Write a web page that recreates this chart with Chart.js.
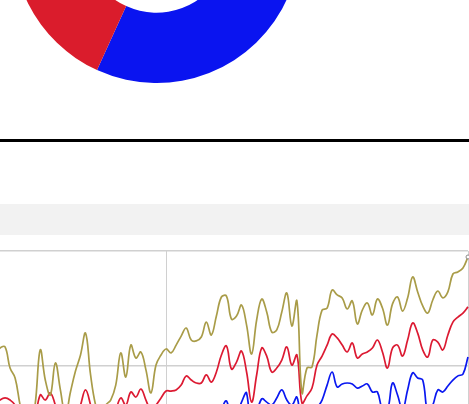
<!DOCTYPE html>
<html>
<head>
<meta charset="utf-8">
<script src="https://cdn.jsdelivr.net/npm/chart.js@4.4.1/dist/chart.umd.min.js"></script>
<style>
  html, body { margin: 0; padding: 0; width: 469px; height: 404px; overflow: hidden; background: #fff; }
  #donutBox { position: absolute; left: 13px; top: -204px; width: 287px; height: 287px; }
  .rule { position: absolute; left: 0; top: 139px; width: 469px; height: 3px; background: #000; }
  .band { position: absolute; left: 0; top: 204px; width: 469px; height: 31px; background: #f2f2f2; }
  #lineBox { position: absolute; left: 0; top: 246px; width: 469px; height: 240px; }
</style>
</head>
<body>
<div id="donutBox"><canvas id="donut"></canvas></div>
<div class="rule"></div>
<div class="band"></div>
<div id="lineBox"><canvas id="lines"></canvas></div>

<script>
// Donut: two shares, blue first (from the top, clockwise), then red
const donutLabels = ['A', 'B'];
const donutValues = [56.8, 43.2];
const donutColors = ['#0a14f0', '#da1c2c'];

// Line chart: one point per year
const years = Array.from({ length: 95 }, (_, i) => 1926 + i);
const xTicks = [1960, 2020];
const yTicks = [50, 100];

const olive = [54.8, 57.8, 58.3, 49.1, 44.8, 33.0, 24.3, 22.2, 33.5, 57.0,
  43.9, 37.4, 51.3, 39.6, 28.7, 38.7, 47.8, 54.8, 64.3, 46.1,
  33.0, 27.4, 33.0, 35.2, 41.7, 55.7, 45.2, 59.1, 53.5, 56.1,
  48.3, 38.3, 50.4, 54.8, 57.4, 55.7, 59.1, 63.0, 66.5, 61.3,
  60.9, 62.6, 69.1, 63.5, 71.7, 80.0, 80.4, 70.4, 71.7, 76.5,
  67.8, 55.2, 70.0, 79.1, 73.5, 64.8, 65.7, 73.5, 81.7, 67.4,
  78.3, 38.3, 49.1, 49.6, 63.5, 74.3, 75.2, 83.0, 80.9, 79.6,
  74.8, 78.3, 68.3, 74.3, 77.4, 72.2, 79.1, 75.2, 67.8, 77.0,
  80.0, 73.9, 79.6, 88.7, 82.2, 76.1, 73.0, 78.7, 82.6, 79.6,
  82.2, 90.0, 90.9, 92.6, 97.4];

const red = [33.0, 35.2, 36.1, 35.2, 33.0, 26.5, 17.8, 17.8, 26.5, 37.4,
  35.2, 38.3, 33.0, 26.5, 17.8, 22.2, 26.5, 33.0, 39.6, 33.0,
  24.3, 22.2, 24.3, 26.5, 30.9, 36.1, 33.0, 38.7, 36.5, 40.0,
  35.2, 30.9, 33.0, 36.1, 39.1, 39.1, 39.6, 41.7, 45.7, 43.9,
  42.6, 42.6, 46.1, 43.0, 47.4, 54.8, 58.7, 48.7, 51.7, 56.5,
  47.4, 34.3, 46.1, 57.8, 54.3, 47.4, 49.1, 52.6, 58.3, 50.4,
  54.8, 33.9, 37.0, 40.4, 50.4, 54.3, 59.1, 63.9, 62.2, 59.1,
  56.1, 60.0, 53.5, 55.2, 56.1, 57.8, 61.3, 56.1, 49.1, 57.8,
  59.1, 54.3, 61.3, 68.7, 64.3, 57.0, 53.9, 61.3, 60.4, 57.0,
  63.5, 69.1, 71.3, 73.0, 75.7];

const blue = [12.2, 14.3, 15.2, 14.3, 12.2, 5.7, 1.3, 1.3, 5.7, 16.5,
  14.3, 17.4, 12.2, 5.7, 0.5, 1.3, 5.7, 12.2, 18.7, 12.2,
  3.5, 1.3, 3.5, 5.7, 10.0, 15.2, 12.2, 17.8, 15.7, 19.1,
  14.3, 10.0, 12.2, 15.2, 18.3, 18.3, 18.7, 20.9, 24.8, 23.0,
  21.7, 21.7, 25.2, 22.2, 24.3, 30.9, 34.8, 26.5, 28.7, 34.3,
  38.3, 17.8, 28.7, 35.7, 34.3, 33.0, 36.1, 39.6, 35.2, 33.0,
  36.5, 24.3, 26.5, 28.7, 31.7, 35.2, 41.7, 47.4, 40.9, 42.2,
  42.6, 42.2, 40.4, 41.3, 42.2, 38.7, 38.7, 30.9, 30.9, 42.6,
  37.4, 30.9, 39.6, 47.0, 44.8, 43.9, 30.0, 33.0, 39.6, 38.7,
  41.3, 43.9, 45.7, 46.5, 53.9];

new Chart(document.getElementById('donut'), {
  type: 'doughnut',
  data: {
    labels: donutLabels,
    datasets: [{ data: donutValues, backgroundColor: donutColors, borderWidth: 0 }]
  },
  options: {
    responsive: true,
    maintainAspectRatio: false,
    animation: false,
    cutout: '51%',
    layout: { padding: 0 },
    plugins: { legend: { display: false }, tooltip: { enabled: false } }
  }
});

// helper: turn a value array into {x, y} points on the year axis
const toPoints = arr => arr.map((v, i) => ({ x: years[i], y: v }));
const gridColor = '#d0d0d0';

// small hollow marker on the last point of the first series
const endMarker = {
  id: 'endMarker',
  afterDatasetsDraw(chart) {
    const pts = chart.getDatasetMeta(0).data;
    const p = pts[pts.length - 1];
    const ctx = chart.ctx;
    ctx.save();
    ctx.beginPath();
    ctx.arc(p.x, p.y, 2, 0, Math.PI * 2);
    ctx.fillStyle = '#fff';
    ctx.fill();
    ctx.lineWidth = 1;
    ctx.strokeStyle = '#8a8a8a';
    ctx.stroke();
    ctx.restore();
  }
};

new Chart(document.getElementById('lines'), {
  type: 'line',
  data: {
    datasets: [
      { label: 'olive', data: toPoints(olive), borderColor: '#a99c48' },
      { label: 'red', data: toPoints(red), borderColor: '#dc1a32' },
      { label: 'blue', data: toPoints(blue), borderColor: '#0a18f0' }
    ]
  },
  options: {
    responsive: true,
    maintainAspectRatio: false,
    animation: false,
    clip: false,
    elements: {
      line: { tension: 0.4, borderWidth: 1.7 },
      point: { radius: 0, hoverRadius: 0 }
    },
    layout: { padding: { top: 5, bottom: 5, left: 0, right: 1 } },
    plugins: { legend: { display: false }, tooltip: { enabled: false } },
    scales: {
      x: {
        type: 'linear',
        min: 1927,
        max: 2020,
        afterBuildTicks: scale => { scale.ticks = xTicks.map(v => ({ value: v })); },
        ticks: { display: false },
        grid: {
          color: ctx => (ctx.tick && xTicks.includes(ctx.tick.value) ? gridColor : 'rgba(0,0,0,0)'),
          lineWidth: 1,
          drawTicks: false
        },
        border: { display: false }
      },
      y: {
        min: 0,
        max: 100,
        afterBuildTicks: scale => { scale.ticks = [0, ...yTicks].map(v => ({ value: v })); },
        ticks: { display: false },
        grid: {
          color: ctx => (ctx.tick && yTicks.includes(ctx.tick.value) ? gridColor : 'rgba(0,0,0,0)'),
          lineWidth: 1.5,
          drawTicks: false
        },
        border: { display: false }
      }
    }
  },
  plugins: [endMarker]
});
</script>
</body>
</html>
